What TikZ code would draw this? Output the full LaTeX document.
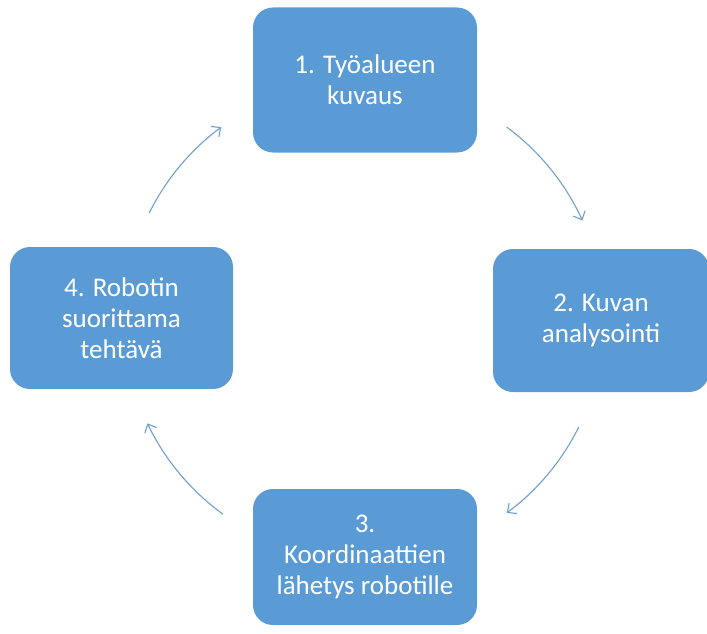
\documentclass[tikz,border=0pt]{standalone}
\usepackage{fontspec}
\setmainfont{Carlito}
\usetikzlibrary{arrows.meta}
\definecolor{boxblue}{HTML}{5B9BD5}
\definecolor{arrblue}{HTML}{6E9FD0}
\tikzset{
  stepbox/.style={fill=boxblue, draw=none, rounded corners=20pt, text=white,
    align=center, font=\fontsize{27}{31}\selectfont, inner sep=0pt},
  cyc/.style={draw=arrblue, line width=1.1pt, -{Straight Barb[length=7pt,width=13pt,line width=1.1pt]}}
}
\begin{document}
\begin{tikzpicture}[x=1pt,y=1pt]
\useasboundingbox (0,-634) rectangle (707,0);
\node[stepbox, minimum width=224pt, minimum height=145pt] (b1) at (365,-80) {1. Työalueen\\kuvaus};
\node[stepbox, minimum width=216pt, minimum height=143pt] (b2) at (601,-320.5) {2. Kuvan\\analysointi};
\node[stepbox, minimum width=224pt, minimum height=136pt] (b3) at (365,-557) {3.\\Koordinaattien\\lähetys robotille};
\node[stepbox, minimum width=223pt, minimum height=142pt] (b4) at (121.5,-318) {4. Robotin\\suorittama\\tehtävä};
\coordinate (c) at (364,-320);
\coordinate (s1) at ([shift={(53.5:240)}]c);
\coordinate (s2) at ([shift={(-26.5:240)}]c);
\coordinate (s3) at ([shift={(-126:240)}]c);
\coordinate (s4) at ([shift={(153.5:240)}]c);
\draw[cyc] (s1) arc[start angle=53.5, end angle=24.5, radius=240pt];
\draw[cyc] (s2) arc[start angle=-26.5, end angle=-53.5, radius=240pt];
\draw[cyc] (s3) arc[start angle=-126, end angle=-154.5, radius=240pt];
\draw[cyc] (s4) arc[start angle=153.5, end angle=126.5, radius=240pt];
\end{tikzpicture}
\end{document}
